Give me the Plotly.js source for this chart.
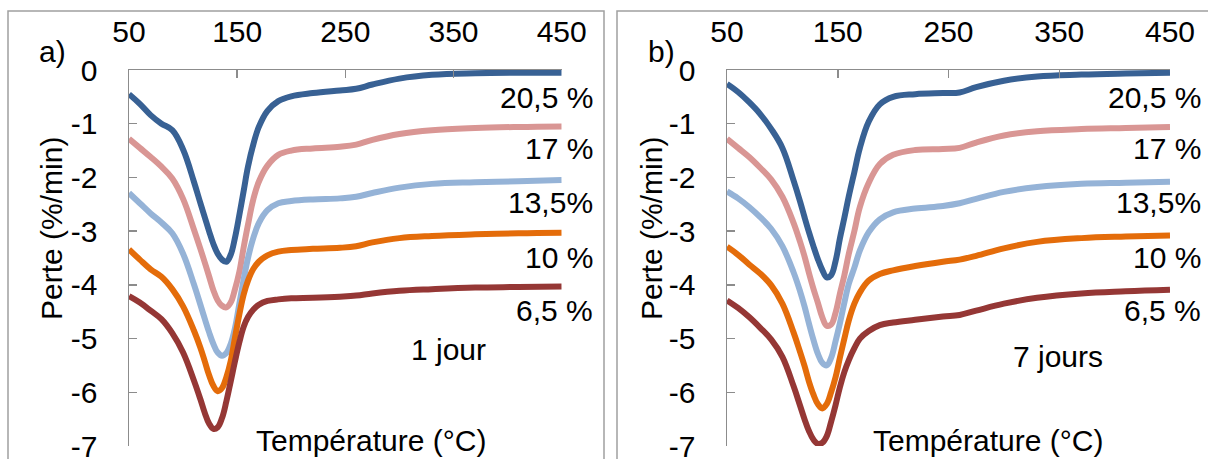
<!DOCTYPE html>
<html>
<head>
<meta charset="utf-8">
<script src="https://cdn.plot.ly/plotly-3.0.1.min.js"></script>
<style>html,body{margin:0;padding:0;background:#fff;}#chart{width:1208px;height:459px;}</style>
</head>
<body>
<div id="chart"></div>
<script>
// Temperature grid (°C), shared by both panels
const temperature = [50, 60, 70, 80, 90, 100, 110, 116, 120, 124, 128, 132, 136, 140, 144, 148, 152, 156, 160, 165, 170, 178, 188, 200, 220, 245, 260, 275, 300, 330, 370, 410, 450];

const seriesNames = ['20,5 %', '17 %', '13,5%', '10 %', '6,5 %'];
const seriesColors = ['#386194', '#D99694', '#95B3D7', '#E46C0A', '#953735'];

// Panel a) 1 jour
const a_205 = [-0.45, -0.63, -0.84, -1.00, -1.12, -1.48, -2.08, -2.48, -2.74, -3.00, -3.24, -3.42, -3.53, -3.57, -3.44, -3.12, -2.70, -2.25, -1.80, -1.38, -1.06, -0.76, -0.58, -0.49, -0.43, -0.38, -0.35, -0.27, -0.16, -0.09, -0.06, -0.05, -0.05];
const a_17  = [-1.28, -1.45, -1.62, -1.80, -2.02, -2.40, -2.97, -3.33, -3.58, -3.84, -4.10, -4.29, -4.39, -4.42, -4.33, -4.08, -3.76, -3.30, -2.88, -2.40, -2.08, -1.78, -1.58, -1.50, -1.46, -1.43, -1.39, -1.30, -1.19, -1.12, -1.08, -1.06, -1.05];
const a_135 = [-2.29, -2.48, -2.67, -2.84, -3.04, -3.42, -3.99, -4.37, -4.63, -4.88, -5.10, -5.26, -5.32, -5.27, -5.10, -4.80, -4.35, -3.90, -3.50, -3.12, -2.85, -2.61, -2.48, -2.44, -2.41, -2.39, -2.36, -2.29, -2.19, -2.12, -2.09, -2.07, -2.05];
const a_10  = [-3.34, -3.53, -3.71, -3.85, -4.08, -4.40, -4.85, -5.17, -5.42, -5.68, -5.88, -5.98, -5.92, -5.72, -5.42, -4.98, -4.55, -4.18, -3.92, -3.70, -3.57, -3.45, -3.38, -3.35, -3.33, -3.31, -3.28, -3.21, -3.13, -3.09, -3.06, -3.04, -3.03];
const a_65  = [-4.21, -4.33, -4.48, -4.64, -4.90, -5.26, -5.78, -6.13, -6.38, -6.58, -6.68, -6.65, -6.48, -6.17, -5.80, -5.42, -5.07, -4.78, -4.60, -4.46, -4.37, -4.30, -4.27, -4.25, -4.24, -4.22, -4.20, -4.16, -4.11, -4.08, -4.05, -4.04, -4.03];

// Panel b) 7 jours
const b_205 = [-0.26, -0.41, -0.60, -0.82, -1.10, -1.45, -2.05, -2.45, -2.74, -3.02, -3.28, -3.52, -3.72, -3.86, -3.82, -3.56, -3.13, -2.75, -2.35, -1.90, -1.45, -0.96, -0.64, -0.50, -0.45, -0.43, -0.42, -0.32, -0.20, -0.12, -0.085, -0.065, -0.05];
const b_17  = [-1.28, -1.45, -1.62, -1.82, -2.04, -2.36, -2.84, -3.20, -3.47, -3.78, -4.07, -4.33, -4.60, -4.76, -4.74, -4.52, -4.16, -3.82, -3.42, -3.00, -2.55, -2.10, -1.75, -1.58, -1.49, -1.47, -1.45, -1.35, -1.22, -1.14, -1.10, -1.08, -1.06];
const b_135 = [-2.26, -2.39, -2.55, -2.74, -2.96, -3.28, -3.76, -4.12, -4.40, -4.72, -5.02, -5.28, -5.45, -5.50, -5.36, -5.05, -4.71, -4.33, -3.98, -3.68, -3.36, -3.02, -2.78, -2.65, -2.58, -2.53, -2.48, -2.40, -2.27, -2.18, -2.12, -2.10, -2.08];
const b_10  = [-3.29, -3.44, -3.62, -3.79, -4.01, -4.35, -4.88, -5.25, -5.51, -5.80, -6.04, -6.22, -6.30, -6.22, -6.00, -5.72, -5.35, -5.00, -4.66, -4.35, -4.14, -3.92, -3.80, -3.73, -3.65, -3.57, -3.53, -3.46, -3.32, -3.20, -3.13, -3.10, -3.08];
const b_65  = [-4.29, -4.43, -4.60, -4.80, -5.02, -5.34, -5.88, -6.25, -6.50, -6.72, -6.88, -6.96, -6.94, -6.82, -6.55, -6.24, -5.90, -5.62, -5.40, -5.18, -5.00, -4.86, -4.75, -4.70, -4.65, -4.59, -4.56, -4.48, -4.35, -4.24, -4.16, -4.12, -4.09];

const xTickVals = [50, 150, 250, 350, 450];
const yTickVals = [0, -1, -2, -3, -4, -5, -6, -7];
const yTickText = ['0', '-1', '-2', '-3', '-4', '-5', '-6', '-7'];
const panelLetters = ['a)', 'b)'];
const panelNotes = ['1 jour', '7 jours'];
const xTitle = 'Température (°C)';
const yTitle = 'Perte (%/min)';

const W = 1208, H = 459;
const px = v => v / W;
const py = v => 1 - v / H;
const FONT = 'Liberation Sans, Arial, sans-serif';
const FS = 30;

const panelA = [a_205, a_17, a_135, a_10, a_65];
const panelB = [b_205, b_17, b_135, b_10, b_65];

const traces = [];
[[panelA, 'x', 'y'], [panelB, 'x2', 'y2']].forEach(([set, xa, ya]) => {
  set.forEach((vals, i) => {
    traces.push({
      type: 'scatter', mode: 'lines', x: temperature, y: vals,
      xaxis: xa, yaxis: ya, name: seriesNames[i], showlegend: false,
      line: {color: seriesColors[i], width: 6, shape: 'spline', smoothing: 1.1}
    });
  });
});

const axisGray = '#8C8C8C';
function xAxis(domain, anchor) {
  return {
    domain: domain, anchor: anchor, side: 'top', range: [50, 450],
    tickmode: 'array', tickvals: xTickVals, ticktext: xTickVals.map(String),
    ticks: 'inside', ticklen: 8, tickwidth: 1.5, tickcolor: axisGray,
    showline: true, linecolor: axisGray, linewidth: 1.5,
    showgrid: false, zeroline: false, fixedrange: true,
    ticklabelstandoff: 15, ticklabeloverflow: 'allow',
    tickfont: {family: FONT, size: FS, color: '#000'}
  };
}
function yAxis(domain, anchor) {
  return {
    domain: domain, anchor: anchor, range: [-7, 0],
    tickmode: 'array', tickvals: yTickVals, ticktext: yTickText,
    ticks: 'inside', ticklen: 8, tickwidth: 1.5, tickcolor: axisGray,
    showline: true, linecolor: axisGray, linewidth: 1.5,
    showgrid: false, zeroline: false, fixedrange: true,
    ticklabelstandoff: 24, ticklabeloverflow: 'allow',
    tickfont: {family: FONT, size: FS, color: '#000'}
  };
}

const yDom = [1 - 446 / H, 1 - 70 / H];
const layout = {
  width: W, height: H,
  margin: {l: 0, r: 0, t: 0, b: 0, pad: 0},
  paper_bgcolor: '#fff', plot_bgcolor: '#fff',
  showlegend: false,
  font: {family: FONT, size: FS, color: '#000'},
  xaxis: xAxis([px(129), px(561.7)], 'y'),
  yaxis: yAxis(yDom, 'x'),
  xaxis2: xAxis([px(727), px(1170)], 'y2'),
  yaxis2: yAxis(yDom, 'x2'),
  shapes: [
    {type: 'rect', xref: 'paper', yref: 'paper', x0: px(8), x1: px(604), y0: py(470), y1: py(11), line: {color: '#A0A0A0', width: 1.5}, layer: 'below'},
    {type: 'rect', xref: 'paper', yref: 'paper', x0: px(617), x1: px(1220), y0: py(470), y1: py(11), line: {color: '#A0A0A0', width: 1.5}, layer: 'below'}
  ],
  annotations: []
};

const labelY = [98, 148, 202.5, 257, 310];
const labelRight = [595, 1203];
const letterX = [52, 661];
const yTitleX = [52, 652];
const xTitleX = [371.5, 987.5];
const noteXY = [[448, 349], [1058, 356]];

function ann(text, x, y, xanchor, extra) {
  return Object.assign({
    text: text, xref: 'paper', yref: 'paper', x: px(x), y: py(y),
    xanchor: xanchor, yanchor: 'middle', showarrow: false,
    font: {family: FONT, size: FS, color: '#000'}
  }, extra || {});
}

for (let p = 0; p < 2; p++) {
  seriesNames.forEach((n, i) => layout.annotations.push(ann(n, labelRight[p], labelY[i], 'right')));
  layout.annotations.push(ann(panelLetters[p], letterX[p], 52, 'center'));
  layout.annotations.push(ann(yTitle, yTitleX[p], 229, 'center', {textangle: -90}));
  layout.annotations.push(ann(xTitle, xTitleX[p], 440, 'center'));
  layout.annotations.push(ann(panelNotes[p], noteXY[p][0], noteXY[p][1], 'center'));
}

Plotly.newPlot('chart', traces, layout, {staticPlot: true, displayModeBar: false});
</script>
</body>
</html>
